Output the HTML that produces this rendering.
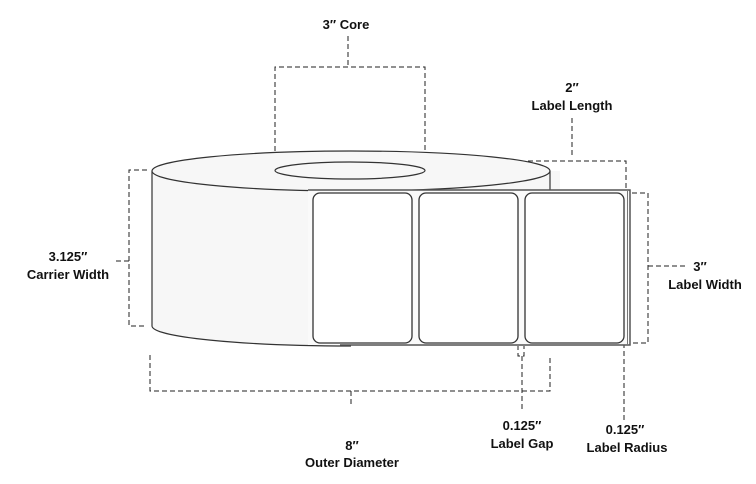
<!DOCTYPE html>
<html><head><meta charset="utf-8"><style>
html,body{margin:0;padding:0;background:#fff;}
svg{display:block;}
text{font-family:"Liberation Sans",sans-serif;font-weight:bold;font-size:13px;fill:#111;text-anchor:middle;}
</style></head><body>
<svg width="756" height="484" viewBox="0 0 756 484" xmlns="http://www.w3.org/2000/svg">
<g fill="none" stroke="#222" stroke-width="1" stroke-dasharray="5,3">
<!-- core -->
<path d="M275,175 V67 H425 V175"/><path d="M348,36 V67"/>
<!-- carrier width -->
<path d="M147,170 H129 V326 H147"/><path d="M116,261 H129"/>
<!-- label length -->
<path d="M525,190 V161 H626 V190"/><path d="M572,118 V158"/>
<!-- label width -->
<path d="M632,193 H648 V343 H632"/><path d="M648,266 H686"/>
<!-- outer diameter -->
<path d="M150,355 V391 H550 V355"/><path d="M351,391 V406"/>
<!-- gap -->
<path d="M518,345 V356 H524 V345"/><path d="M522,356 V412"/>
<!-- radius -->
<path d="M624,343 V420"/>
</g>
<!-- roll body -->
<path d="M152,171 V326 A199,20 0 0 0 351,346 H560 V171 Z" fill="#f7f7f7" stroke="none"/>
<path d="M152,171 V326 A199,20 0 0 0 351,346" fill="none" stroke="#333" stroke-width="1.2"/>
<ellipse cx="351" cy="171" rx="199" ry="20" fill="#f7f7f7" stroke="#333" stroke-width="1.2"/>
<path d="M550,171 V190" stroke="#333" stroke-width="1.2"/>
<ellipse cx="350" cy="170.5" rx="75" ry="8.5" fill="#f7f7f7" stroke="#333" stroke-width="1.2"/>
<!-- strip -->
<rect x="308" y="190" width="322" height="155" fill="#fafafa" stroke="none"/>
<path d="M340,345 H630 V190 H308" fill="none" stroke="#555" stroke-width="1.5"/>
<path d="M627.5,191 V345" stroke="#777" stroke-width="1"/>
<g fill="#fff" stroke="#333" stroke-width="1.3">
<rect x="313" y="193" width="99" height="150" rx="7"/>
<rect x="419" y="193" width="99" height="150" rx="7"/>
<rect x="525" y="193" width="99" height="150" rx="7"/>
</g>
<!-- labels -->
<text x="346" y="29">3″ Core</text>
<text x="572" y="92">2″</text>
<text x="572" y="110">Label Length</text>
<text x="68" y="261">3.125″</text>
<text x="68" y="279">Carrier Width</text>
<text x="700" y="271">3″</text>
<text x="705" y="289">Label Width</text>
<text x="352" y="450">8″</text>
<text x="352" y="467">Outer Diameter</text>
<text x="522" y="430">0.125″</text>
<text x="522" y="448">Label Gap</text>
<text x="625" y="434">0.125″</text>
<text x="627" y="452">Label Radius</text>
</svg>
</body></html>
